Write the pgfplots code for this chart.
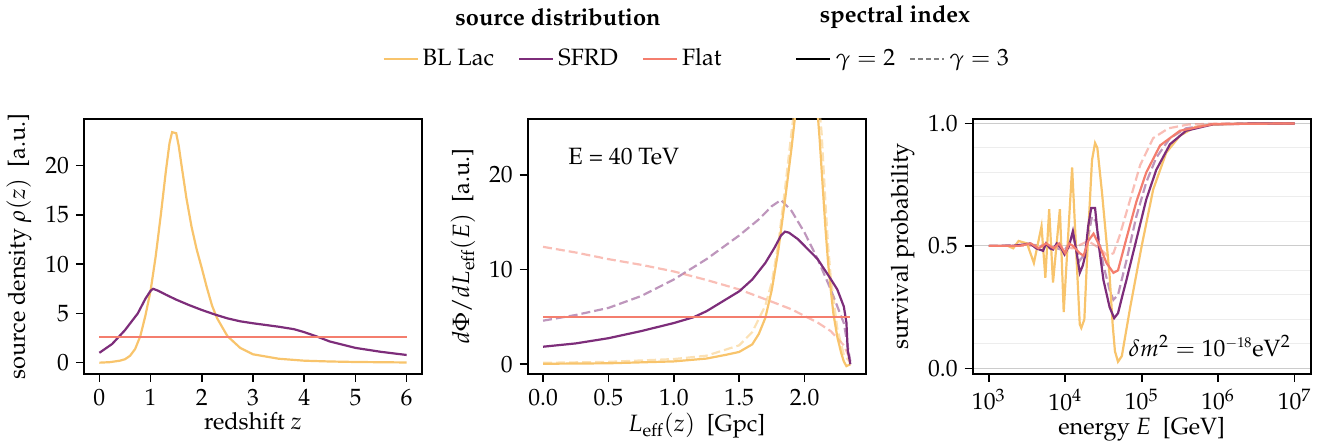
\documentclass[border=0pt]{standalone}
\usepackage[T1]{fontenc}
\usepackage{mathpazo}
\usepackage{pgfplots}
\pgfplotsset{compat=1.18}

\definecolor{bllac}{RGB}{248,196,108}
\definecolor{sfrd}{RGB}{125,45,122}
\definecolor{flat}{RGB}{244,126,110}
\newcommand\fs{\fontsize{11.8}{14}\selectfont}

\pgfplotsset{
  panel/.style={
    scale only axis, width=169pt, height=127.5pt, anchor=south west,
    tick align=outside, tick pos=left,
    axis line style={line width=0.9pt},
    major tick length=4pt,
    every tick/.style={black, line width=0.8pt},
    tick label style={font=\fs},
    label style={font=\fs},
    every axis x label/.append style={yshift=3.5pt},
  },
  g2/.style={line width=1.1pt},
  g3/.style={line width=1.1pt, opacity=0.5, dash pattern=on 4.5pt off 2pt},
  legend image code/.code={\draw[#1] (0pt,0pt) -- (17pt,0pt);},
}

\begin{document}
\begin{tikzpicture}
\useasboundingbox (0,0) rectangle (661.5pt,221.5pt);

% ---- panel 1: source density
\begin{axis}[panel, at={(42pt,34.5pt)},
  xmin=-0.3, xmax=6.3, ymin=-1.15, ymax=24.74,
  xtick={0,1,2,3,4,5,6}, ytick={0,5,10,15,20},
  xlabel={redshift $z$}, ylabel={source density $\rho(z)$\ \ [a.u.]},
]
\addplot[bllac, g2] coordinates {
(0,0.0) (0.2,0.05) (0.4,0.2) (0.5,0.35) (0.6,0.7) (0.7,1.4) (0.8,2.7)
(0.9,4.8) (1.0,7.3) (1.1,10.8) (1.2,15.0) (1.3,19.5) (1.37,22.3) (1.42,23.4)
(1.5,23.3) (1.55,22.0) (1.6,20.2) (1.7,16.7) (1.8,13.8) (1.9,11.5) (2.0,9.6)
(2.1,7.6) (2.2,5.8) (2.3,4.5) (2.5,2.7) (2.75,1.5) (3.0,0.85) (3.5,0.4)
(4.0,0.2) (4.5,0.12) (5.0,0.07) (6.0,0.02)};
\addplot[sfrd, g2] coordinates {
(0,1.0) (0.25,1.9) (0.5,3.3) (0.75,5.0) (0.9,6.5) (1.0,7.3) (1.05,7.5)
(1.15,7.3) (1.3,6.9) (1.5,6.4) (1.75,5.85) (2.0,5.35) (2.25,4.9) (2.5,4.5)
(2.75,4.2) (3.0,4.0) (3.5,3.65) (3.8,3.4) (4.0,3.1) (4.25,2.65) (4.5,2.15)
(5.0,1.5) (5.5,1.1) (6.0,0.78)};
\addplot[flat, g2] coordinates {(0,2.64) (6,2.64)};
\end{axis}

% ---- panel 2: flux per distance
\begin{axis}[panel, at={(263.85pt,34.5pt)},
  xmin=-0.1175, xmax=2.4675, ymin=-1.03, ymax=25.9,
  xtick={0,0.5,1,1.5,2}, ytick={0,10,20},
  xticklabel style={/pgf/number format/.cd, fixed, fixed zerofill, precision=1},
  xlabel={$L_{\mathrm{eff}}(z)$\ \ [Gpc]},
  ylabel={$d\Phi/dL_{\mathrm{eff}}(E)$\ \ [a.u.]},
  legend style={at={(axis description cs:0.078,1.236)}, anchor=center,
    draw=none, fill=none, font=\fs},
  legend columns=3,
  legend cell align=left,
  /tikz/every even column/.append style={column sep=10pt},
]
\addlegendimage{bllac, g2}\addlegendentry{BL Lac}
\addlegendimage{sfrd, g2}\addlegendentry{SFRD}
\addlegendimage{flat, g2}\addlegendentry{Flat}

\addplot[sfrd, g3] coordinates {
(0,4.6) (0.25,5.2) (0.5,5.95) (0.75,7.2) (1.0,8.95) (1.25,11.1) (1.5,13.6)
(1.65,15.3) (1.75,16.7) (1.82,17.35) (1.9,16.2) (2.0,13.9) (2.1,11.1)
(2.2,7.9) (2.3,4.35) (2.35,0.3)};
\addplot[flat, g3] coordinates {
(0,12.4) (0.25,11.8) (0.5,11.1) (0.75,10.5) (1.0,9.8) (1.25,8.9) (1.5,7.9)
(1.75,6.6) (1.9,5.8) (2.0,5.1) (2.1,4.4) (2.2,3.5) (2.3,2.0) (2.34,0.8)};
\addplot[bllac, g3] coordinates {
(0,0.15) (0.5,0.25) (1.0,0.55) (1.25,0.9) (1.5,2.0) (1.6,3.4) (1.7,6.2)
(1.75,8.7) (1.8,12.8) (1.85,18.5) (1.9,24.5) (1.95,30) (2.0,36) (2.05,35)
(2.1,29) (2.13,24.5) (2.16,17) (2.18,12.5) (2.2,9.2) (2.25,3.8) (2.3,1.0)
(2.35,0.2)};
\addplot[bllac, g2] coordinates {
(0,0.05) (0.5,0.1) (1.0,0.3) (1.25,0.6) (1.4,1.0) (1.5,1.3) (1.6,2.1)
(1.65,3.2) (1.7,4.9) (1.75,7.9) (1.8,12.1) (1.85,17.3) (1.9,22.8) (1.95,29)
(2.0,34) (2.05,33) (2.1,26.5) (2.115,23.8) (2.14,18.5) (2.16,14.3)
(2.18,10.7) (2.2,7.9) (2.22,5.4) (2.25,2.9) (2.28,1.2) (2.3,0.3)
(2.32,-0.2) (2.35,0.0)};
\addplot[sfrd, g2] coordinates {
(0,1.85) (0.25,2.2) (0.5,2.75) (0.75,3.5) (1.0,4.35) (1.15,4.96) (1.25,5.6)
(1.5,7.7) (1.6,8.95) (1.7,10.7) (1.77,12.3) (1.82,13.6) (1.85,14.0) (1.88,13.9)
(1.95,13.2) (2.0,12.5) (2.1,11.1) (2.2,9.0) (2.25,7.9) (2.3,6.1) (2.32,4.4)
(2.33,1.5) (2.35,0.0)};
\addplot[flat, g2] coordinates {(0,4.95) (2.345,4.95)};
\node[anchor=west, font=\fs] at (axis cs:0.14,21.9) {E = 40 TeV};
\end{axis}

% ---- panel 3: survival probability
\begin{axis}[panel, at={(486.35pt,34.5pt)},
  xmin=2.79, xmax=7.21, ymin=-0.023, ymax=1.018,
  xtick={3,4,5,6,7},
  xticklabels={$10^{3}$,$10^{4}$,$10^{5}$,$10^{6}$,$10^{7}$},
  ytick={0,0.5,1},
  minor ytick={0.1,0.2,0.3,0.4,0.6,0.7,0.8,0.9},
  minor tick length=0pt,
  ymajorgrids, yminorgrids,
  major grid style={black!20, line width=0.6pt},
  minor grid style={black!7, line width=0.5pt},
  yticklabel style={/pgf/number format/.cd, fixed, fixed zerofill, precision=1},
  xlabel={energy $E$\ \ [GeV]}, ylabel={survival probability},
  legend style={at={(axis description cs:-0.203,1.236)}, anchor=center,
    draw=none, fill=none, font=\fs},
  legend columns=2,
  /tikz/every even column/.append style={column sep=5pt},
]
\addlegendimage{black, g2}\addlegendentry{$\gamma = 2$}
\addlegendimage{gray, line width=1.1pt, dash pattern=on 2.5pt off 1.5pt}\addlegendentry{$\gamma = 3$}

\addplot[sfrd, g3] coordinates {
(3.00,0.50) (3.5,0.505) (3.8,0.50) (3.99,0.48) (4.10,0.54) (4.19,0.44)
(4.26,0.47) (4.35,0.62) (4.40,0.60) (4.50,0.42) (4.58,0.32) (4.63,0.28)
(4.69,0.30) (4.80,0.44) (4.93,0.62) (5.06,0.76) (5.19,0.86) (5.37,0.94)
(5.58,0.98) (5.93,0.997) (7.0,1.0)};
\addplot[flat, g3] coordinates {
(3.00,0.50) (3.8,0.50) (4.1,0.49) (4.3,0.52) (4.45,0.49) (4.55,0.46)
(4.63,0.47) (4.71,0.54) (4.85,0.69) (4.98,0.83) (5.15,0.94) (5.35,0.98)
(5.6,0.995) (6.0,1.0) (7.0,1.0)};
\addplot[bllac, g2] coordinates {
(3.00,0.50) (3.25,0.50) (3.32,0.49) (3.39,0.52) (3.50,0.51) (3.59,0.43)
(3.69,0.58) (3.74,0.37) (3.79,0.65) (3.84,0.35) (3.93,0.65) (3.98,0.23)
(4.09,0.82) (4.19,0.18) (4.21,0.165) (4.25,0.2) (4.30,0.55) (4.35,0.85)
(4.39,0.92) (4.42,0.9) (4.48,0.72) (4.53,0.55) (4.58,0.38) (4.62,0.18)
(4.65,0.07) (4.69,0.027) (4.74,0.05) (4.85,0.25) (5.00,0.50) (5.15,0.73)
(5.32,0.88) (5.50,0.95) (5.70,0.985) (5.93,0.995) (6.3,0.999) (7.0,1.0)};
\addplot[sfrd, g2] coordinates {
(3.00,0.50) (3.30,0.50) (3.45,0.505) (3.54,0.51) (3.62,0.49) (3.71,0.48)
(3.75,0.51) (3.80,0.49) (3.84,0.485) (3.89,0.51) (3.95,0.49) (3.99,0.465)
(4.05,0.50) (4.10,0.56) (4.15,0.47) (4.19,0.39) (4.23,0.42) (4.26,0.46)
(4.30,0.58) (4.34,0.655) (4.39,0.655) (4.44,0.50) (4.50,0.36) (4.58,0.25)
(4.64,0.205) (4.69,0.225) (4.75,0.30) (4.80,0.36) (4.93,0.525) (5.06,0.69)
(5.19,0.81) (5.37,0.915) (5.58,0.97) (5.93,0.996) (6.5,1.0) (7.0,1.0)};
\addplot[flat, g2] coordinates {
(3.00,0.50) (3.40,0.50) (3.55,0.51) (3.65,0.49) (3.75,0.51) (3.85,0.49)
(3.92,0.51) (4.00,0.47) (4.05,0.51) (4.10,0.50) (4.19,0.47) (4.24,0.46)
(4.30,0.52) (4.37,0.55) (4.45,0.50) (4.54,0.43) (4.63,0.39) (4.69,0.40)
(4.80,0.53) (4.93,0.68) (5.06,0.80) (5.24,0.91) (5.50,0.97) (5.93,0.997)
(7.0,1.0)};
\node[anchor=east, font=\fs, inner sep=1pt] at (axis cs:6.98,0.09)
  {$\delta m^{2} = 10^{\scriptscriptstyle -18}$eV$^{2}$};
\end{axis}

\node[font=\fs\bfseries] at (279pt,213pt) {source distribution};
\node[font=\fs\bfseries] at (447.5pt,213pt) {spectral index};
\end{tikzpicture}
\end{document}
